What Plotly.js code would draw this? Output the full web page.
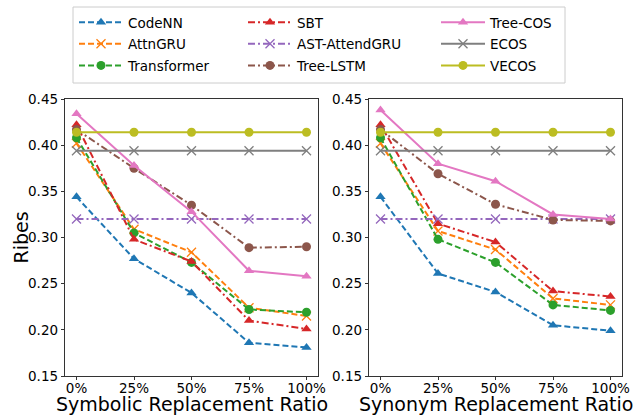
<!DOCTYPE html>
<html>
<head>
<meta charset="utf-8">
<script src="https://cdn.plot.ly/plotly-3.0.1.min.js"></script>
<style>html,body{margin:0;padding:0;background:#fff}#chart{width:641px;height:417px}</style>
</head>
<body>
<div id="chart"></div>
<script>
const ratios = ["0%", "25%", "50%", "75%", "100%"];
const ratioPos = [0, 1, 2, 3, 4];
const yTicks = [0.15, 0.20, 0.25, 0.30, 0.35, 0.40, 0.45];

const names = ["CodeNN", "AttnGRU", "Transformer", "SBT", "AST-AttendGRU", "Tree-LSTM", "Tree-COS", "ECOS", "VECOS"];
const yTitle = "Ribes";
const xTitles = ["Symbolic Replacement Ratio", "Synonym Replacement Ratio"];

// Symbolic replacement
const symCodeNN      = [0.344, 0.277, 0.240, 0.186, 0.181];
const symAttnGRU     = [0.402, 0.309, 0.284, 0.224, 0.215];
const symTransformer = [0.408, 0.305, 0.273, 0.222, 0.219];
const symSBT         = [0.422, 0.298, 0.274, 0.210, 0.201];
const symAST         = [0.320, 0.320, 0.320, 0.320, 0.320];
const symTreeLSTM    = [0.417, 0.375, 0.335, 0.289, 0.290];
const symTreeCOS     = [0.434, 0.378, 0.328, 0.264, 0.258];
const symECOS        = [0.394, 0.394, 0.394, 0.394, 0.394];
const symVECOS       = [0.414, 0.414, 0.414, 0.414, 0.414];

// Synonym replacement
const synCodeNN      = [0.344, 0.261, 0.241, 0.205, 0.199];
const synAttnGRU     = [0.402, 0.307, 0.287, 0.234, 0.227];
const synTransformer = [0.408, 0.298, 0.273, 0.227, 0.221];
const synSBT         = [0.422, 0.315, 0.295, 0.242, 0.236];
const synAST         = [0.320, 0.320, 0.320, 0.320, 0.320];
const synTreeLSTM    = [0.417, 0.369, 0.336, 0.319, 0.318];
const synTreeCOS     = [0.438, 0.380, 0.361, 0.325, 0.320];
const synECOS        = [0.394, 0.394, 0.394, 0.394, 0.394];
const synVECOS       = [0.414, 0.414, 0.414, 0.414, 0.414];

const symData = [symCodeNN, symAttnGRU, symTransformer, symSBT, symAST, symTreeLSTM, symTreeCOS, symECOS, symVECOS];
const synData = [synCodeNN, synAttnGRU, synTransformer, synSBT, synAST, synTreeLSTM, synTreeCOS, synECOS, synVECOS];

const colors = ["#1f77b4", "#ff7f0e", "#2ca02c", "#d62728", "#9467bd", "#8c564b", "#e377c2", "#7f7f7f", "#bcbd22"];
const dashes = ["6px,3px", "6px,3px", "6px,3px", "7px,3px,2px,3px", "7px,3px,2px,3px", "7px,3px,2px,3px", "solid", "solid", "solid"];
const symbols = ["triangle-up", "x-thin-open", "circle", "triangle-up", "x-thin-open", "circle", "triangle-up", "x-thin-open", "circle"];
const legendCols = ["legend", "legend", "legend", "legend2", "legend2", "legend2", "legend3", "legend3", "legend3"];

const traces = [];
[symData, synData].forEach((set, si) => {
  set.forEach((vals, i) => {
    const isX = symbols[i] === "x-thin-open";
    traces.push({
      x: ratioPos, y: vals, type: "scatter", mode: "lines+markers",
      name: names[i], legendgroup: names[i], showlegend: si === 0,
      legend: legendCols[i],
      xaxis: si === 0 ? "x" : "x2", yaxis: si === 0 ? "y" : "y2",
      line: {color: colors[i], width: 2, dash: dashes[i]},
      marker: {symbol: symbols[i], size: 9, color: colors[i],
               line: {color: colors[i], width: isX ? 1.3 : 0}}
    });
  });
});

const axisCommon = {
  showgrid: false, zeroline: false, showline: true, mirror: true,
  linecolor: "#333", linewidth: 1.2, ticks: "outside", ticklen: 3, tickwidth: 1, tickcolor: "#333",
  tickfont: {family: "DejaVu Sans", size: 13.5, color: "#000"}
};
const xCommon = Object.assign({}, axisCommon, {
  range: [-0.2, 4.2], tickvals: ratioPos, ticktext: ratios, ticklabelstandoff: -3
});
const yCommon = Object.assign({}, axisCommon, {
  range: [0.15, 0.45], tickvals: yTicks, ticktext: yTicks.map(v => v.toFixed(2))
});

const legendCommon = {
  orientation: "v", y: 1 - 7/417, yanchor: "top", bgcolor: "rgba(0,0,0,0)", borderwidth: 0,
  font: {family: "DejaVu Sans", size: 13.5, color: "#000"},
  itemwidth: 44, traceorder: "grouped", tracegroupgap: 1
};

const titleFont = {family: "DejaVu Sans", size: 19, color: "#000"};

const layout = {
  width: 641, height: 417,
  margin: {l: 0, r: 0, t: 0, b: 0},
  paper_bgcolor: "#fff", plot_bgcolor: "#fff",
  font: {family: "DejaVu Sans", color: "#000"},
  xaxis: Object.assign({}, xCommon, {domain: [65/641, 318/641], anchor: "y"}),
  yaxis: Object.assign({}, yCommon, {domain: [1 - 376/417, 1 - 99/417], anchor: "x"}),
  xaxis2: Object.assign({}, xCommon, {domain: [369/641, 622/641], anchor: "y2"}),
  yaxis2: Object.assign({}, yCommon, {domain: [1 - 376/417, 1 - 99/417], anchor: "x2"}),
  showlegend: true,
  legend: Object.assign({}, legendCommon, {x: 74/641, xanchor: "left"}),
  legend2: Object.assign({}, legendCommon, {x: 243/641, xanchor: "left"}),
  legend3: Object.assign({}, legendCommon, {x: 436/641, xanchor: "left"}),
  annotations: [
    {text: xTitles[0], xref: "x domain", yref: "paper", x: 0.5, y: 1 - 404/417,
     xanchor: "center", yanchor: "middle", showarrow: false, font: titleFont},
    {text: xTitles[1], xref: "x2 domain", yref: "paper", x: 0.5, y: 1 - 404/417,
     xanchor: "center", yanchor: "middle", showarrow: false, font: titleFont},
    {text: yTitle, xref: "paper", yref: "y domain", x: 20/641, y: 0.5, textangle: -90,
     xanchor: "center", yanchor: "middle", showarrow: false, font: titleFont}
  ],
  shapes: [{type: "rect", xref: "paper", yref: "paper",
    x0: 73/641, x1: 565/641, y0: 1 - 83/417, y1: 1 - 7/417,
    line: {color: "#cccccc", width: 1}, fillcolor: "rgba(0,0,0,0)"}]
};

Plotly.newPlot("chart", traces, layout, {displayModeBar: false, staticPlot: true});
</script>
</body>
</html>
